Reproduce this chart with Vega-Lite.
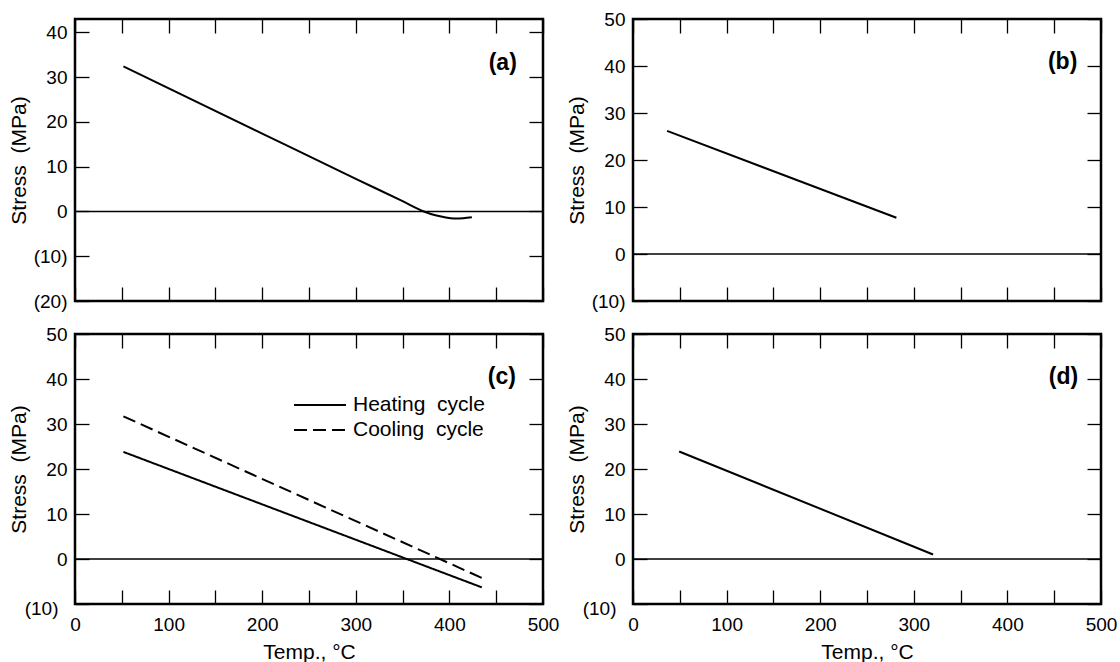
{
  "$schema": "https://vega.github.io/schema/vega-lite/v6.json",
  "autosize": {"type": "pad"},
  "padding": {"left": 6, "top": 8, "right": 5, "bottom": 5},
  "background": "white",
  "config": {
    "font": "Liberation Sans",
    "view": {"stroke": "black", "strokeWidth": 2.5},
    "axis": {
      "labelFont": "Liberation Sans", "labelFontSize": 19, "labelColor": "black",
      "titleFont": "Liberation Sans", "titleFontSize": 21, "titleFontWeight": "normal", "titleColor": "black",
      "tickColor": "black", "tickWidth": 1.3, "tickSize": -14,
      "domain": false, "grid": false, "labelFlush": false, "labelOverlap": false
    },
    "text": {"font": "Liberation Sans"}
  },
  "datasets": {
    "a": [
      {"temp": 51.7, "stress": 32.4}, {"temp": 200, "stress": 17.4}, {"temp": 300, "stress": 7.3},
      {"temp": 350, "stress": 2.3}, {"temp": 372.7, "stress": 0}, {"temp": 385, "stress": -0.85},
      {"temp": 395, "stress": -1.3}, {"temp": 405, "stress": -1.55}, {"temp": 415, "stress": -1.5},
      {"temp": 424, "stress": -1.3}
    ],
    "b": [{"temp": 36.4, "stress": 26.2}, {"temp": 281.4, "stress": 7.7}],
    "c": [
      {"temp": 51.7, "stress": 23.8, "cycle": "Heating cycle"},
      {"temp": 434.6, "stress": -6.3, "cycle": "Heating cycle"},
      {"temp": 51.7, "stress": 31.7, "cycle": "Cooling cycle"},
      {"temp": 434.6, "stress": -4.2, "cycle": "Cooling cycle"}
    ],
    "d": [{"temp": 49.3, "stress": 23.9}, {"temp": 320.6, "stress": 1.0}]
  },
  "columns": 2,
  "bounds": "flush",
  "align": "all",
  "spacing": {"row": 33, "column": 90},
  "resolve": {"scale": {"strokeDash": "independent"}, "legend": {"strokeDash": "independent"}},
  "concat": [
    {
      "width": 468, "height": 282,
      "resolve": {"axis": {"x": "independent", "y": "independent"}},
      "layer": [
        {"data": {"values": [{"zero": 0}]}, "mark": {"type": "rule", "color": "black", "strokeWidth": 1.3},
         "encoding": {"y": {"field": "zero", "type": "quantitative", "axis": null}}},
        {"data": {"name": "a"}, "mark": {"type": "line", "color": "black", "strokeWidth": 2, "interpolate": "monotone"},
         "encoding": {
           "x": {"field": "temp", "type": "quantitative", "scale": {"domain": [0, 500], "nice": false},
                 "axis": {"orient": "bottom", "values": [0,50,100,150,200,250,300,350,400,450,500], "labels": false, "title": null}},
           "y": {"field": "stress", "type": "quantitative", "scale": {"domain": [-20, 43], "nice": false, "zero": false},
                 "axis": {"orient": "left", "values": [-20,-10,0,10,20,30,40], "labelPadding": 22,
                          "labelExpr": "datum.value < 0 ? '(' + format(-datum.value, 'd') + ')' : format(datum.value, 'd')",
                          "title": "Stress\u00a0 (MPa)", "titleX": -46}}
         }},
        {"data": {"values": [{"temp": 457, "stress": 33.2, "label": "(a)"}]},
         "mark": {"type": "text", "fontSize": 23, "fontWeight": "bold", "color": "black"},
         "encoding": {
           "x": {"field": "temp", "type": "quantitative", "axis": {"orient": "top", "values": [0,50,100,150,200,250,300,350,400,450,500], "labels": false, "title": null}},
           "y": {"field": "stress", "type": "quantitative", "axis": {"orient": "right", "values": [-20,-10,0,10,20,30,40], "labels": false, "title": null}},
           "text": {"field": "label"}
         }}
      ]
    },
    {
      "width": 468, "height": 282,
      "resolve": {"axis": {"x": "independent", "y": "independent"}},
      "layer": [
        {"data": {"values": [{"zero": 0}]}, "mark": {"type": "rule", "color": "black", "strokeWidth": 1.3},
         "encoding": {"y": {"field": "zero", "type": "quantitative", "axis": null}}},
        {"data": {"name": "b"}, "mark": {"type": "line", "color": "black", "strokeWidth": 2},
         "encoding": {
           "x": {"field": "temp", "type": "quantitative", "scale": {"domain": [0, 500], "nice": false},
                 "axis": {"orient": "bottom", "values": [0,50,100,150,200,250,300,350,400,450,500], "labels": false, "title": null}},
           "y": {"field": "stress", "type": "quantitative", "scale": {"domain": [-10, 50], "nice": false, "zero": false},
                 "axis": {"orient": "left", "values": [-10,0,10,20,30,40,50], "labelPadding": 22,
                          "labelExpr": "datum.value < 0 ? '(' + format(-datum.value, 'd') + ')' : format(datum.value, 'd')",
                          "title": "Stress\u00a0 (MPa)", "titleX": -46}}
         }},
        {"data": {"values": [{"temp": 459, "stress": 40.8, "label": "(b)"}]},
         "mark": {"type": "text", "fontSize": 23, "fontWeight": "bold", "color": "black"},
         "encoding": {
           "x": {"field": "temp", "type": "quantitative", "axis": {"orient": "top", "values": [0,50,100,150,200,250,300,350,400,450,500], "labels": false, "title": null}},
           "y": {"field": "stress", "type": "quantitative", "axis": {"orient": "right", "values": [-10,0,10,20,30,40,50], "labels": false, "title": null}},
           "text": {"field": "label"}
         }}
      ]
    },
    {
      "width": 468, "height": 270,
      "resolve": {"axis": {"x": "independent", "y": "independent"}},
      "layer": [
        {"data": {"values": [{"zero": 0}]}, "mark": {"type": "rule", "color": "black", "strokeWidth": 1.3},
         "encoding": {"y": {"field": "zero", "type": "quantitative", "axis": null}}},
        {"data": {"name": "c"}, "mark": {"type": "line", "color": "black", "strokeWidth": 2},
         "encoding": {
           "x": {"field": "temp", "type": "quantitative", "scale": {"domain": [0, 500], "nice": false},
                 "axis": {"orient": "bottom", "values": [0,50,100,150,200,250,300,350,400,450,500], "labelPadding": 25,
                          "labelExpr": "datum.value % 100 === 0 ? datum.label : ''",
                          "title": "Temp., °C", "titleY": 37}},
           "y": {"field": "stress", "type": "quantitative", "scale": {"domain": [-10, 50], "nice": false, "zero": false},
                 "axis": {"orient": "left", "values": [-10,0,10,20,30,40,50],
                          "labelPadding": {"condition": {"test": "datum.value === -10", "value": 31}, "value": 22},
                          "labelOffset": {"condition": {"test": "datum.value === -10", "value": 4}, "value": 0},
                          "labelExpr": "datum.value < 0 ? '(' + format(-datum.value, 'd') + ')' : format(datum.value, 'd')",
                          "title": "Stress\u00a0 (MPa)", "titleX": -46}},
           "strokeDash": {"field": "cycle", "type": "nominal",
                 "scale": {"domain": ["Heating cycle", "Cooling cycle"], "range": [[1, 0], [13, 6]]},
                 "legend": {"orient": "none", "legendX": 250, "legendY": 60, "title": null, "padding": 0,
                            "symbolType": "M-4.2,0H1", "symbolSize": 400, "symbolStrokeWidth": 2, "symbolStrokeColor": "black",
                            "labelFont": "Liberation Sans", "labelFontSize": 21, "labelColor": "black", "labelOffset": 6,
                            "rowPadding": 4,
                            "labelExpr": "replace(datum.label, ' ', '\u00a0 ')"}}
         }},
        {"data": {"values": [{"temp": 456, "stress": 40.4, "label": "(c)"}]},
         "mark": {"type": "text", "fontSize": 23, "fontWeight": "bold", "color": "black"},
         "encoding": {
           "x": {"field": "temp", "type": "quantitative", "axis": {"orient": "top", "values": [0,50,100,150,200,250,300,350,400,450,500], "labels": false, "title": null}},
           "y": {"field": "stress", "type": "quantitative", "axis": {"orient": "right", "values": [-10,0,10,20,30,40,50], "labels": false, "title": null}},
           "text": {"field": "label"}
         }}
      ]
    },
    {
      "width": 468, "height": 270,
      "resolve": {"axis": {"x": "independent", "y": "independent"}},
      "layer": [
        {"data": {"values": [{"zero": 0}]}, "mark": {"type": "rule", "color": "black", "strokeWidth": 1.3},
         "encoding": {"y": {"field": "zero", "type": "quantitative", "axis": null}}},
        {"data": {"name": "d"}, "mark": {"type": "line", "color": "black", "strokeWidth": 2},
         "encoding": {
           "x": {"field": "temp", "type": "quantitative", "scale": {"domain": [0, 500], "nice": false},
                 "axis": {"orient": "bottom", "values": [0,50,100,150,200,250,300,350,400,450,500], "labelPadding": 25,
                          "labelExpr": "datum.value % 100 === 0 ? datum.label : ''",
                          "title": "Temp., °C", "titleY": 37}},
           "y": {"field": "stress", "type": "quantitative", "scale": {"domain": [-10, 50], "nice": false, "zero": false},
                 "axis": {"orient": "left", "values": [-10,0,10,20,30,40,50],
                          "labelPadding": {"condition": {"test": "datum.value === -10", "value": 31}, "value": 22},
                          "labelOffset": {"condition": {"test": "datum.value === -10", "value": 4}, "value": 0},
                          "labelExpr": "datum.value < 0 ? '(' + format(-datum.value, 'd') + ')' : format(datum.value, 'd')",
                          "title": "Stress\u00a0 (MPa)", "titleX": -46}}
         }},
        {"data": {"values": [{"temp": 460, "stress": 40.4, "label": "(d)"}]},
         "mark": {"type": "text", "fontSize": 23, "fontWeight": "bold", "color": "black"},
         "encoding": {
           "x": {"field": "temp", "type": "quantitative", "axis": {"orient": "top", "values": [0,50,100,150,200,250,300,350,400,450,500], "labels": false, "title": null}},
           "y": {"field": "stress", "type": "quantitative", "axis": {"orient": "right", "values": [-10,0,10,20,30,40,50], "labels": false, "title": null}},
           "text": {"field": "label"}
         }}
      ]
    }
  ]
}
